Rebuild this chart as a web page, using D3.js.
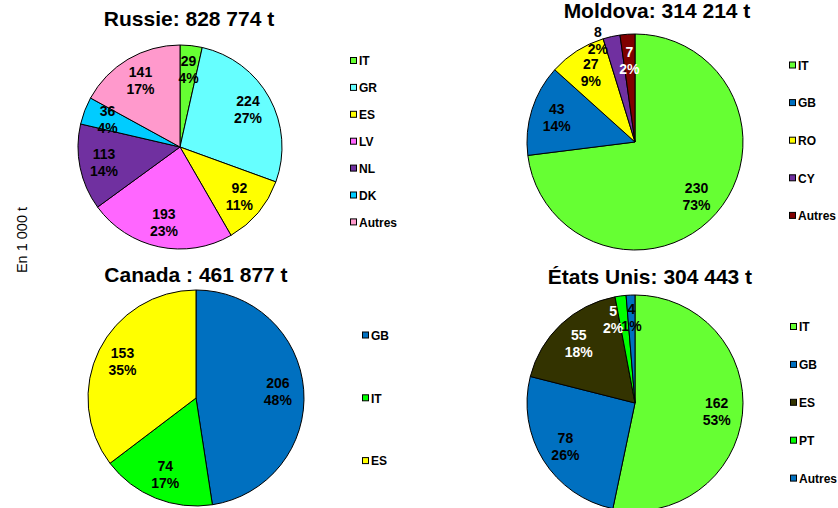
<!DOCTYPE html>
<html>
<head>
<meta charset="utf-8">
<script src="https://cdn.jsdelivr.net/npm/d3@7/dist/d3.min.js"></script>
<style>
  html, body { margin: 0; padding: 0; background: #ffffff; }
  svg { display: block; font-family: Arial, "Liberation Sans", sans-serif; }
</style>
</head>
<body>
<svg id="chart" width="838" height="508"></svg>
<script>
// Import volumes by country of origin (thousand tonnes) for four exporters
const russieCategories = ["IT", "GR", "ES", "LV", "NL", "DK", "Autres"];
const russieValues     = [29, 224, 92, 193, 113, 36, 141];
const russiePercents   = [4, 27, 11, 23, 14, 4, 17];

const moldovaCategories = ["IT", "GB", "RO", "CY", "Autres"];
const moldovaValues     = [230, 43, 27, 8, 7];
const moldovaPercents   = [73, 14, 9, 2, 2];

const canadaCategories = ["GB", "IT", "ES"];
const canadaValues     = [206, 74, 153];
const canadaPercents   = [48, 17, 35];

const usaCategories = ["IT", "GB", "ES", "PT", "Autres"];
const usaValues     = [162, 78, 55, 5, 4];
const usaPercents   = [53, 26, 18, 2, 1];

const titles = ["Russie: 828 774 t", "Moldova: 314 214 t", "Canada : 461 877 t", "États Unis: 304 443 t"];
const unitLabel = "En 1 000 t";

// Slice colours per panel
const palettes = {
  russie:  ["#66ff33", "#66ffff", "#ffff00", "#ff66ff", "#7030a0", "#00ccff", "#ff99cc"],
  moldova: ["#66ff33", "#0070c0", "#ffff00", "#7030a0", "#800000"],
  canada:  ["#0070c0", "#00ff00", "#ffff00"],
  usa:     ["#66ff33", "#0070c0", "#333300", "#00ff00", "#0070c0"]
};
// Slices whose labels are drawn in white
const whiteLabels = { moldova: [4], usa: [2, 3] };
// Labels moved off the default ring to avoid overlap (radius factor, angle shift in degrees)
const labelNudges = {
  moldova: { 3: { k: 1.0, da: -7.5 } },
  usa: { 3: { k: 0.8, da: -7 }, 4: { k: 0.79, da: 0 } }
};

const panels = [
  { key: "russie",  cats: russieCategories,  vals: russieValues,  pcts: russiePercents,
    cx: 180, cy: 147, r: 102, title: titles[0], tx: 189, ty: 26,
    lx: 350, ly0: 61, lstep: 26.9 },
  { key: "moldova", cats: moldovaCategories, vals: moldovaValues, pcts: moldovaPercents,
    cx: 635, cy: 142, r: 108, title: titles[1], tx: 657, ty: 17.5,
    lx: 789, ly0: 65.5, lstep: 37.6 },
  { key: "canada",  cats: canadaCategories,  vals: canadaValues,  pcts: canadaPercents,
    cx: 196, cy: 398, r: 108, title: titles[2], tx: 196, ty: 282,
    lx: 362, ly0: 335.5, lstep: 62.8 },
  { key: "usa",     cats: usaCategories,     vals: usaValues,     pcts: usaPercents,
    cx: 635, cy: 403, r: 108, title: titles[3], tx: 650, ty: 284,
    lx: 790, ly0: 327, lstep: 37.9 }
];

const svg = d3.select("#chart");

// Vertical unit label on the left
svg.append("text")
  .attr("transform", "translate(27,240) rotate(-90)")
  .attr("text-anchor", "middle")
  .attr("font-size", 14.5)
  .attr("fill", "#000")
  .text(unitLabel);

const pie = d3.pie().sort(null).value(d => d);

panels.forEach(p => {
  const g = svg.append("g");
  const colors = palettes[p.key];
  const arcs = pie(p.vals);
  const arc = d3.arc().innerRadius(0).outerRadius(p.r);

  // Title
  g.append("text")
    .attr("x", p.tx).attr("y", p.ty)
    .attr("text-anchor", "middle")
    .attr("font-size", 21).attr("font-weight", "bold")
    .attr("fill", "#000")
    .text(p.title);

  // Slices
  const pg = g.append("g").attr("transform", `translate(${p.cx},${p.cy})`);
  pg.selectAll("path.slice")
    .data(arcs)
    .join("path")
    .attr("class", "slice")
    .attr("d", arc)
    .attr("fill", (d, i) => colors[i])
    .attr("stroke", "#000")
    .attr("stroke-width", 1)
    .attr("stroke-linejoin", "round");

  // Value / percent labels
  const nudges = labelNudges[p.key] || {};
  const whites = whiteLabels[p.key] || [];
  arcs.forEach((d, i) => {
    const n = nudges[i] || { k: 0.76, da: 0 };
    const mid = (d.startAngle + d.endAngle) / 2 + n.da * Math.PI / 180;
    const rr = p.r * n.k;
    const x = Math.sin(mid) * rr;
    const y = -Math.cos(mid) * rr;
    const t = pg.append("text")
      .attr("text-anchor", "middle")
      .attr("font-size", 14).attr("font-weight", "bold")
      .attr("fill", whites.includes(i) ? "#ffffff" : "#000000");
    t.append("tspan").attr("x", x).attr("y", y - 3.5).text(p.vals[i]);
    t.append("tspan").attr("x", x).attr("y", y + 13.5).text(p.pcts[i] + "%");
  });

  // Legend
  const lg = g.append("g");
  p.cats.forEach((c, i) => {
    const yy = p.ly0 + i * p.lstep;
    lg.append("rect")
      .attr("x", p.lx + 0.5).attr("y", yy - 3.5)
      .attr("width", 6).attr("height", 6)
      .attr("fill", colors[i])
      .attr("stroke", "#000").attr("stroke-width", 1);
    lg.append("text")
      .attr("x", p.lx + 9).attr("y", yy + 4.3)
      .attr("font-size", 12).attr("font-weight", "bold")
      .attr("fill", "#000")
      .text(c);
  });
});
</script>
</body>
</html>
